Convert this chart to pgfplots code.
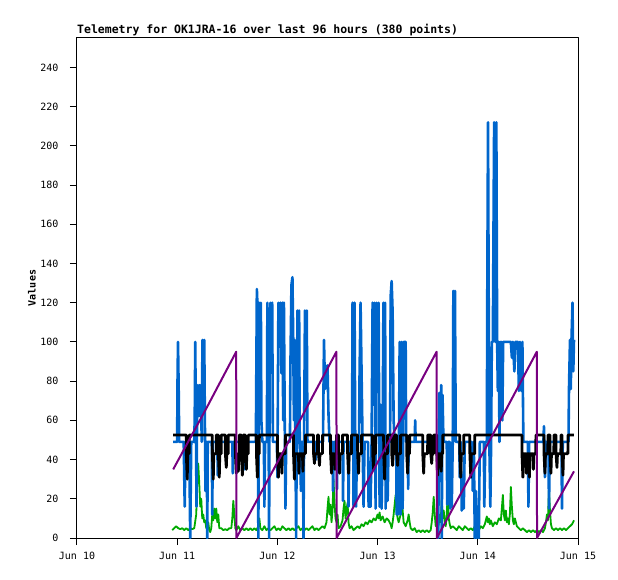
\documentclass[border=0pt]{standalone}
\usepackage{pgfplots}
\pgfplotsset{compat=1.18}
\usepackage{fontspec}
\setmainfont{DejaVu Sans Mono}
\definecolor{tblue}{RGB}{0,102,204}
\definecolor{tpurple}{RGB}{120,0,128}
\definecolor{tgreen}{RGB}{0,170,0}
\begin{document}
\begin{tikzpicture}
\path[use as bounding box] (-77pt,-41pt) rectangle (541pt,538pt);
\begin{axis}[
  at={(0pt,0pt)}, anchor=south west,
  scale only axis, width=501pt, height=500pt,
  xmin=10, xmax=15, ymin=0, ymax=255,
  xtick={10,11,12,13,14,15},
  xticklabels={Jun 10,Jun 11,Jun 12,Jun 13,Jun 14,Jun 15},
  ytick={0,20,...,240},
  tick pos=left, tick align=outside, major tick length=7pt,
  tick style={black, line width=1pt},
  axis line style={black, line width=1pt},
  /pgf/number format/assume math mode=true,
  tick label style={font=\fontsize{10}{12}\selectfont},
  xticklabel style={yshift=-4pt},
  yticklabel style={xshift=-8pt},
  every axis title shift=0pt,
  title={Telemetry for OK1JRA-16 over last 96 hours (380 points)},
  title style={at={(axis description cs:0,1)}, anchor=base west, inner sep=0pt, yshift=4pt, font=\bfseries\fontsize{11.5}{13}\selectfont},
  ylabel={Values},
  ylabel style={at={(axis description cs:-0.09,0.5)}, anchor=center, font=\bfseries\fontsize{10}{12}\selectfont},
  line join=round,
]
% green
\addplot[tgreen, line width=1.8pt] coordinates {
(10.95,4)(10.97,5)(10.99,6)(11.01,5)(11.03,4.5)(11.05,5)(11.07,4)(11.09,5)(11.11,4)(11.13,5)(11.15,4.5)(11.17,5)
(11.19,12)(11.20,30)(11.21,38)(11.22,28)(11.23,16)(11.24,20)(11.25,10)(11.26,12)(11.27,8)(11.28,9)(11.29,5)
(11.31,8)(11.32,4)(11.33,3)(11.34,5)(11.35,12)(11.36,9)(11.37,15)(11.38,10)(11.39,15)(11.40,8)(11.41,12)(11.42,5)
(11.44,5)(11.46,4)(11.48,4.5)(11.50,4)(11.52,5)(11.54,5)(11.55,10)(11.56,19)(11.57,12)(11.58,5)(11.59,4)
(11.61,6)(11.63,4)(11.65,5)(11.67,4)(11.69,5)(11.71,4)(11.73,5)(11.75,4)(11.77,5)(11.79,4)(11.81,6)(11.82,10)(11.83,5)
(11.85,4)(11.87,6)(11.89,4)(11.91,5)(11.93,4)(11.95,5)(11.97,6)(11.99,4)(12.01,5)(12.03,4)(12.05,6)(12.07,5)(12.09,4)
(12.11,5)(12.13,4)(12.15,5)(12.17,4)(12.19,5)(12.21,6)(12.23,4)(12.25,5)(12.27,4)(12.29,5)(12.31,4)(12.33,5)(12.35,6)
(12.37,4)(12.39,5)(12.41,4)(12.43,5)(12.45,6)(12.47,5)(12.49,8)(12.50,15)(12.51,21)(12.52,12)(12.53,17)(12.54,8)
(12.55,14)(12.56,30)(12.57,18)(12.58,10)(12.59,8)(12.60,12)(12.61,5)(12.63,6)(12.65,9)(12.66,15)(12.67,19)(12.68,10)
(12.69,14)(12.70,18)(12.71,8)(12.72,5)(12.74,6)(12.76,4)(12.78,5)(12.80,6)(12.82,5)(12.84,7)(12.86,6)(12.88,8)
(12.90,7)(12.92,9)(12.94,8)(12.96,10)(12.98,9)(13.00,12)(13.01,10)(13.02,13)(13.03,9)(13.05,11)(13.07,8)(13.09,10)
(13.11,9)(13.13,7)(13.14,5)(13.15,8)(13.16,12)(13.17,17)(13.18,22)(13.19,14)(13.20,10)(13.21,8)(13.23,12)(13.24,20)
(13.25,14)(13.26,8)(13.28,6)(13.30,9)(13.31,12)(13.32,8)(13.33,5)(13.35,4)(13.37,5)(13.39,3)(13.41,4)(13.43,3)
(13.45,4)(13.47,3)(13.49,4)(13.51,3)(13.53,4)(13.54,8)(13.55,13)(13.56,21)(13.57,12)(13.58,6)(13.59,8)(13.60,5)
(13.61,7)(13.62,12)(13.63,8)(13.64,20)(13.65,10)(13.66,14)(13.67,8)(13.68,6)(13.69,12)(13.70,23)(13.71,10)(13.72,7)
(13.73,5)(13.75,6)(13.77,5)(13.79,4)(13.81,6)(13.83,5)(13.85,4)(13.87,6)(13.89,5)(13.91,4)(13.93,5)(13.95,4)
(13.97,6)(13.99,5)(14.01,4)(14.03,6)(14.05,5)(14.07,7)(14.08,9)(14.09,11)(14.10,8)(14.11,10)(14.12,7)(14.13,9)
(14.15,6)(14.17,8)(14.19,7)(14.21,10)(14.23,9)(14.24,15)(14.25,22)(14.26,12)(14.27,9)(14.28,14)(14.29,8)(14.30,10)
(14.31,7)(14.32,12)(14.33,26)(14.34,16)(14.35,9)(14.36,7)(14.37,10)(14.39,6)(14.41,5)(14.43,4)(14.45,5)(14.47,4)
(14.49,3)(14.51,4)(14.53,3)(14.55,4)(14.57,3)(14.59,4)(14.61,3)(14.63,4)(14.65,3)(14.67,5)(14.68,8)(14.69,12)
(14.70,9)(14.71,25)(14.72,14)(14.73,7)(14.74,5)(14.76,4)(14.78,5)(14.80,4)(14.82,5)(14.84,4)(14.86,5)(14.88,4)
(14.90,5)(14.92,6)(14.94,7)(14.96,9)
};
% blue
\addplot[tblue, line width=2.6pt] coordinates {
(10.96,49)(11.00,49)(11.002,75)(11.008,100)(11.015,75)(11.02,49)
(11.065,49)(11.07,32)(11.075,16)(11.083,49)
(11.12,49)(11.125,24)(11.13,0)(11.135,24)(11.14,49)
(11.17,49)(11.175,62)(11.18,100)(11.186,62)(11.193,16)(11.20,78)(11.21,62)(11.22,78)(11.23,62)(11.235,78)(11.245,49)
(11.252,101)(11.26,78)(11.27,101)(11.276,62)(11.282,24)(11.288,49)
(11.295,49)(11.30,0)(11.305,49)
(11.345,49)(11.35,12)(11.355,49)
(11.40,49)(11.405,32)(11.41,49)
(11.55,49)(11.555,33)(11.56,49)
(11.67,49)(11.675,35)(11.68,49)
(11.785,49)(11.79,88)(11.795,127)(11.80,120)(11.81,0)(11.817,120)(11.825,88)(11.835,120)(11.84,60)(11.85,49)
(11.865,49)(11.87,16)(11.877,49)
(11.895,49)(11.90,120)(11.91,84)(11.917,0)(11.923,84)(11.93,120)(11.94,100)(11.948,120)(11.955,49)
(11.995,49)(12.00,31)(12.01,120)(12.02,110)(12.03,120)(12.04,84)(12.05,120)(12.058,60)(12.065,120)(12.073,60)(12.08,15)(12.088,49)
(12.125,49)(12.13,88)(12.14,129)(12.15,133)(12.158,101)(12.165,60)(12.17,101)(12.18,49)(12.187,0)(12.193,49)
(12.20,116)(12.21,60)(12.217,116)(12.223,49)(12.235,24)(12.24,49)
(12.255,49)(12.26,0)(12.266,49)(12.275,116)(12.285,88)(12.293,116)(12.30,49)
(12.38,49)(12.385,40)(12.39,49)
(12.455,49)(12.46,76)(12.465,101)(12.475,76)(12.48,88)(12.49,80)(12.50,88)(12.51,63)(12.52,49)
(12.55,49)(12.555,24)(12.565,49)
(12.59,49)(12.595,25)(12.60,49)
(12.65,49)(12.655,19)(12.66,49)
(12.705,49)(12.71,16)(12.718,49)
(12.745,49)(12.75,120)(12.76,16)(12.77,120)(12.777,49)(12.785,16)(12.795,49)
(12.815,49)(12.82,84)(12.83,120)(12.84,84)(12.85,49)(12.86,16)(12.87,49)
(12.905,49)(12.91,16)(12.93,16)(12.94,49)(12.95,120)(12.96,68)(12.97,120)(12.98,15)(12.99,120)(13.00,84)(13.01,120)
(13.02,16)(13.03,68)(13.04,15)(13.05,49)(13.058,120)(13.065,110)(13.075,120)(13.08,15)(13.09,49)(13.10,19)(13.11,49)
(13.125,49)(13.13,123)(13.14,131)(13.15,115)(13.16,60)(13.17,49)
(13.185,49)(13.19,12)(13.20,49)(13.205,12)(13.213,49)(13.22,100)(13.23,12)(13.24,100)(13.25,15)(13.26,100)(13.28,100)(13.285,49)
(13.30,49)(13.305,25)(13.31,49)
(13.37,49)(13.375,60)(13.38,49)
(13.60,49)(13.605,0)(13.615,74)(13.625,59)(13.635,78)(13.64,0)(13.648,73)(13.655,55)(13.663,49)
(13.69,49)(13.695,17)(13.705,49)
(13.72,49)(13.725,15)(13.735,45)(13.74,16)(13.75,49)(13.756,126)(13.764,87)(13.772,126)(13.78,49)
(13.815,49)(13.82,31)(13.83,49)(13.84,14)(13.85,31)(13.86,15)(13.87,49)
(13.94,49)(13.95,24)(13.96,49)(13.97,0)(13.98,24)(13.99,0)(14.00,16)(14.01,0)(14.02,49)
(14.06,49)(14.065,16)(14.075,49)
(14.09,49)(14.095,131)(14.102,212)(14.108,131)(14.115,49)(14.125,16)(14.133,49)
(14.14,100)(14.15,100)(14.163,212)(14.17,156)(14.176,100)(14.185,212)(14.193,100)(14.20,75)(14.21,100)(14.216,49)
(14.223,100)(14.23,75)(14.238,100)(14.245,60)(14.253,100)(14.33,100)(14.34,92)(14.35,100)(14.365,85)(14.375,100)
(14.40,100)(14.41,75)(14.42,100)(14.435,75)(14.445,100)(14.455,49)
(14.50,49)(14.505,16)(14.513,49)
(14.655,49)(14.66,57)(14.67,31)(14.68,49)
(14.705,49)(14.71,15)(14.72,49)
(14.835,49)(14.84,15)(14.848,49)
(14.905,49)(14.91,76)(14.92,101)(14.928,76)(14.935,101)(14.945,120)(14.953,85)(14.96,101)
};
% black
\addplot[black, line width=2.8pt] coordinates {
(10.96,52.5)
(11.09,52.5)(11.091,43)(11.10,30)(11.105,43)(11.119,43)(11.12,52.5)
(11.35,52.5)(11.351,43)(11.36,30)(11.365,43)(11.389,43)(11.39,52.5)
(11.41,52.5)(11.411,43)(11.42,31)(11.425,43)(11.439,43)(11.44,52.5)
(11.48,52.5)(11.481,43)(11.49,36)(11.495,43)(11.509,43)(11.51,52.5)
(11.58,52.5)(11.581,43)(11.59,33)(11.595,43)(11.61,34)(11.615,43)(11.619,43)(11.62,52.5)
(11.64,52.5)(11.641,43)(11.65,32)(11.659,43)(11.66,52.5)
(11.68,52.5)(11.681,43)(11.69,35)(11.695,43)(11.709,43)(11.71,52.5)
(11.79,52.5)(11.791,43)(11.80,31)(11.805,43)(11.819,43)(11.82,52.5)
(12.00,52.5)(12.001,43)(12.01,31)(12.015,43)(12.04,43)(12.045,33)(12.05,43)(12.079,43)(12.08,52.5)
(12.16,52.5)(12.161,43)(12.17,30)(12.175,43)(12.21,43)(12.215,33)(12.22,43)(12.25,43)(12.255,34)(12.26,43)(12.279,43)(12.28,52.5)
(12.36,52.5)(12.361,43)(12.37,38)(12.375,43)(12.399,43)(12.40,52.5)
(12.41,52.5)(12.411,43)(12.42,37)(12.425,43)(12.449,43)(12.45,52.5)
(12.53,52.5)(12.531,43)(12.54,33)(12.545,43)(12.57,43)(12.575,35)(12.58,43)(12.589,43)(12.59,52.5)
(12.61,52.5)(12.611,43)(12.62,33)(12.625,43)(12.649,43)(12.65,52.5)
(12.70,52.5)(12.701,43)(12.71,33)(12.715,43)(12.739,43)(12.74,52.5)
(12.80,52.5)(12.801,43)(12.81,33)(12.815,43)(12.839,43)(12.84,52.5)
(12.95,52.5)(12.951,43)(12.96,35)(12.965,43)(12.979,43)(12.98,52.5)
(13.06,52.5)(13.061,43)(13.07,30)(13.075,43)(13.099,43)(13.10,52.5)
(13.14,52.5)(13.141,43)(13.15,37)(13.155,43)(13.169,43)(13.17,52.5)
(13.19,52.5)(13.191,43)(13.20,37)(13.205,43)(13.229,43)(13.23,52.5)
(13.29,52.5)(13.291,43)(13.30,33)(13.305,43)(13.319,43)(13.32,52.5)
(13.45,52.5)(13.451,43)(13.46,33)(13.465,43)(13.499,43)(13.50,52.5)
(13.53,52.5)(13.531,43)(13.54,38)(13.545,43)(13.559,43)(13.56,52.5)
(13.59,52.5)(13.591,43)(13.60,32)(13.605,43)(13.63,43)(13.635,34)(13.64,43)(13.649,43)(13.65,52.5)
(13.82,52.5)(13.821,43)(13.83,31)(13.835,43)(13.859,43)(13.86,52.5)
(13.92,52.5)(13.921,43)(13.93,31)(13.935,43)(13.969,43)(13.97,52.5)
(14.44,52.5)(14.441,43)(14.45,31)(14.455,43)(14.48,43)(14.485,33)(14.49,43)(14.51,43)(14.515,31)(14.52,43)(14.55,43)(14.555,35)(14.56,43)(14.579,43)(14.58,52.5)
(14.66,52.5)(14.661,43)(14.67,33)(14.675,43)(14.699,43)(14.70,52.5)
(14.72,52.5)(14.721,43)(14.73,33)(14.735,43)(14.759,43)(14.76,52.5)
(14.78,52.5)(14.781,43)(14.79,36)(14.795,43)(14.829,43)(14.83,52.5)
(14.84,52.5)(14.841,43)(14.85,32)(14.855,43)(14.899,43)(14.90,52.5)
(14.96,52.5)
};
% purple
\addplot[tpurple, line width=2pt] coordinates {
(10.96,35)(11.30,67)(11.589,95)(11.591,0)(12.10,48)(12.589,95)(12.591,0)(13.10,48)(13.589,95)(13.591,0)
(14.10,48)(14.589,95)(14.591,0)(14.96,34)
};
\end{axis}
\end{tikzpicture}
\end{document}
